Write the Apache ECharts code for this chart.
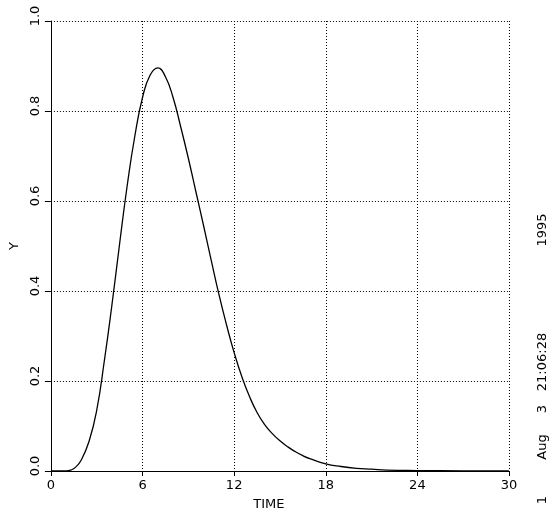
<!DOCTYPE html>
<html>
<head>
<meta charset="utf-8">
<script src="https://cdn.jsdelivr.net/npm/echarts@6/dist/echarts.min.js"></script>
<style>
  html, body { margin: 0; padding: 0; background: #fff; }
  #chart { width: 560px; height: 516px; }
</style>
</head>
<body>
<div id="chart"></div>
<script>
// values
var timeVals = [0, 1, 1.3, 1.6, 2.0, 2.5, 3.0, 3.5, 4.0, 4.5, 5.0, 5.5, 6.0, 6.5, 7.0,
                7.5, 8.0, 8.5, 9.0, 9.5, 10.0, 10.5, 11.0, 11.5, 12.0, 12.5, 13.0, 13.5, 14.0,
                14.5, 15.0, 15.5, 16.0, 16.5, 17.0, 18.0, 19.0, 20.0, 21.0, 22.0, 24.0, 27.0, 30.0];
var yVals = [0, 0, 0.002, 0.008, 0.025, 0.066, 0.135, 0.245, 0.37, 0.505, 0.635, 0.745, 0.83, 0.88, 0.896,
             0.876, 0.83, 0.765, 0.695, 0.62, 0.545, 0.468, 0.393, 0.325, 0.263, 0.21, 0.166, 0.13, 0.103,
             0.083, 0.067, 0.054, 0.043, 0.034, 0.027, 0.016, 0.01, 0.006, 0.004, 0.002, 0.001, 0.0003, 0];
var xTicks = [0, 6, 12, 18, 24, 30];
var yTicks = [0, 0.2, 0.4, 0.6, 0.8, 1.0];
var stampParts = ["1", "Aug", "3", "21:06:28", "1995"];
var stampPos = [500, 447, 409, 362, 230];

var curve = [];
for (var i = 0; i < timeVals.length; i++) {
    curve.push([timeVals[i], yVals[i]]);
}

var font = "DejaVu Sans";
var dotted = { color: '#000', width: 1, type: [1, 2] };

var stamp = [];
for (var j = 0; j < stampParts.length; j++) {
    stamp.push({
        type: 'text', x: 543, y: stampPos[j], rotation: Math.PI / 2,
        style: { text: stampParts[j], font: '13px "DejaVu Sans"', fill: '#000', textAlign: 'center', textVerticalAlign: 'middle' }
    });
}

var myChart = echarts.init(document.getElementById('chart'));
var option = {
    backgroundColor: '#fff',
    animation: false,
    grid: { left: 48, right: 51, top: 21, bottom: 40 },
    xAxis: {
        type: 'value',
        min: xTicks[0],
        max: xTicks[xTicks.length - 1],
        interval: 6,
        name: 'TIME',
        nameLocation: 'middle',
        nameGap: 27,
        nameTextStyle: { fontFamily: font, fontSize: 13, color: '#000', padding: [0, 22, 0, 0] },
        axisLine: { lineStyle: { color: '#000', width: 1 } },
        axisTick: { show: true, length: 5, lineStyle: { color: '#000' } },
        axisLabel: { fontFamily: font, fontSize: 13, color: '#000', margin: 8 },
        splitLine: { show: true, lineStyle: dotted }
    },
    yAxis: {
        type: 'value',
        min: yTicks[0],
        max: yTicks[yTicks.length - 1],
        interval: 0.2,
        name: 'Y',
        nameLocation: 'middle',
        nameGap: 24,
        nameRotate: 90,
        nameTextStyle: { fontFamily: font, fontSize: 13, color: '#000' },
        axisLine: { show: true, lineStyle: { color: '#000', width: 1 } },
        axisTick: { show: true, length: 6, lineStyle: { color: '#000' } },
        axisLabel: {
            fontFamily: font, fontSize: 13, color: '#000', margin: 9, rotate: 90,
            padding: [0, 0, 0, 10],
            formatter: function (v) { return v.toFixed(1); }
        },
        splitLine: { show: true, lineStyle: dotted }
    },
    graphic: stamp,
    series: [{
        type: 'line',
        data: curve,
        smooth: true,
        showSymbol: false,
        lineStyle: { color: '#000', width: 1.3 }
    }]
};
myChart.setOption(option);
</script>
</body>
</html>
